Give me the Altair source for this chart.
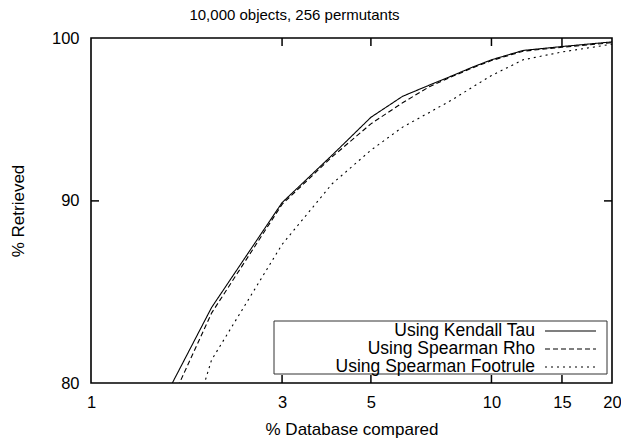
import altair as alt
import pandas as pd

# ---- data ----
pct = [1, 2, 3, 4, 5, 6, 7, 8, 9, 10, 12, 15, 20]
kendall = [72.3, 84.0, 89.9, 92.7, 95.0, 96.3, 97.0, 97.6, 98.15, 98.6, 99.2, 99.45, 99.75]
rho = [70.6, 83.7, 89.8, 92.6, 94.6, 95.9, 96.9, 97.55, 98.1, 98.55, 99.15, 99.4, 99.7]
footrule = [63.0, 81.2, 87.5, 91.0, 93.0, 94.4, 95.3, 96.1, 96.9, 97.6, 98.6, 99.1, 99.6]
series = ["Using Kendall Tau", "Using Spearman Rho", "Using Spearman Footrule"]
dashes = [[1, 0], [5, 3], [2, 4]]
x_ticks = [1, 3, 5, 10, 15, 20]
y_ticks = [80, 90, 100]
x_inner = [3, 5, 10, 15]
y_inner = [90]

FONT = "Liberation Sans"
W, H = 521, 345

rows = []
for name, vals in zip(series, [kendall, rho, footrule]):
    for p, v in zip(pct, vals):
        rows.append({"pct": p, "ret": v, "series": name})
df = pd.DataFrame(rows)

xscale = alt.Scale(type="log", domain=[1, 20], nice=False)
yscale = alt.Scale(type="log", domain=[80, 100], nice=False)
dash_scale = alt.Scale(domain=series, range=dashes)

x_axis = alt.Axis(values=x_ticks, title="% Database compared", ticks=False,
                  domain=False, grid=False, labelFlush=False, labelOverlap=False,
                  labelPadding=11, titlePadding=11)
y_axis = alt.Axis(values=y_ticks, title="% Retrieved", ticks=False, domain=False,
                  grid=False, labelPadding=12, titlePadding=24)

lines = alt.Chart(df).mark_line(clip=True, color="black", strokeWidth=1.1).encode(
    x=alt.X("pct:Q", scale=xscale, axis=x_axis, title="% Database compared"),
    y=alt.Y("ret:Q", scale=yscale, axis=y_axis, title="% Retrieved"),
    strokeDash=alt.StrokeDash("series:N", scale=dash_scale, legend=None),
    detail="series:N",
)

xt = pd.DataFrame({"v": x_inner})
yt = pd.DataFrame({"v": y_inner})
tick_style = dict(color="black", strokeWidth=1.5)
xb = alt.Chart(xt).mark_rule(**tick_style).encode(
    x=alt.X("v:Q", scale=xscale, axis=x_axis, title="% Database compared"),
    y=alt.value(H), y2=alt.value(H - 8))
xtop = alt.Chart(xt).mark_rule(**tick_style).encode(
    x=alt.X("v:Q", scale=xscale, axis=x_axis, title="% Database compared"),
    y=alt.value(0), y2=alt.value(8))
yl = alt.Chart(yt).mark_rule(**tick_style).encode(
    y=alt.Y("v:Q", scale=yscale, axis=y_axis, title="% Retrieved"),
    x=alt.value(0), x2=alt.value(8))
yr = alt.Chart(yt).mark_rule(**tick_style).encode(
    y=alt.Y("v:Q", scale=yscale, axis=y_axis, title="% Retrieved"),
    x=alt.value(W - 8), x2=alt.value(W))

# legend (gnuplot style box)
box = alt.Chart(pd.DataFrame({"a": [0]})).mark_rect(
    fill="white", stroke="#333333", strokeWidth=1).encode(
    x=alt.value(183), x2=alt.value(516), y=alt.value(283), y2=alt.value(336))
legend_layers = [box]
for i, name in enumerate(series):
    d = pd.DataFrame({"series": [name]})
    py = 293 + 18 * i
    legend_layers.append(alt.Chart(d).mark_text(
        align="right", baseline="middle", font=FONT, fontSize=17.5, color="black").encode(
        x=alt.value(444), y=alt.value(py), text="series:N"))
    legend_layers.append(alt.Chart(d).mark_rule(color="black", strokeWidth=1.1).encode(
        x=alt.value(454), x2=alt.value(505), y=alt.value(py),
        strokeDash=alt.StrokeDash("series:N", scale=dash_scale, legend=None)))

chart = alt.layer(lines, xb, xtop, yl, yr, *legend_layers).properties(
    width=W, height=H,
    title=alt.TitleParams("10,000 objects, 256 permutants", font=FONT, fontSize=15,
                          fontWeight="normal", color="black", dx=-57, offset=7),
    autosize=alt.AutoSizeParams(type="none"),
    padding={"left": 83, "top": 30, "right": 9, "bottom": 55},
).configure(background="white").configure_view(
    stroke="black", strokeWidth=1.6
).configure_axis(
    labelFont=FONT, titleFont=FONT, labelFontSize=16.5, titleFontSize=17,
    titleFontWeight="normal", labelColor="black", titleColor="black"
)

chart.save("out.html", embed_options={"renderer": "svg", "actions": False})
